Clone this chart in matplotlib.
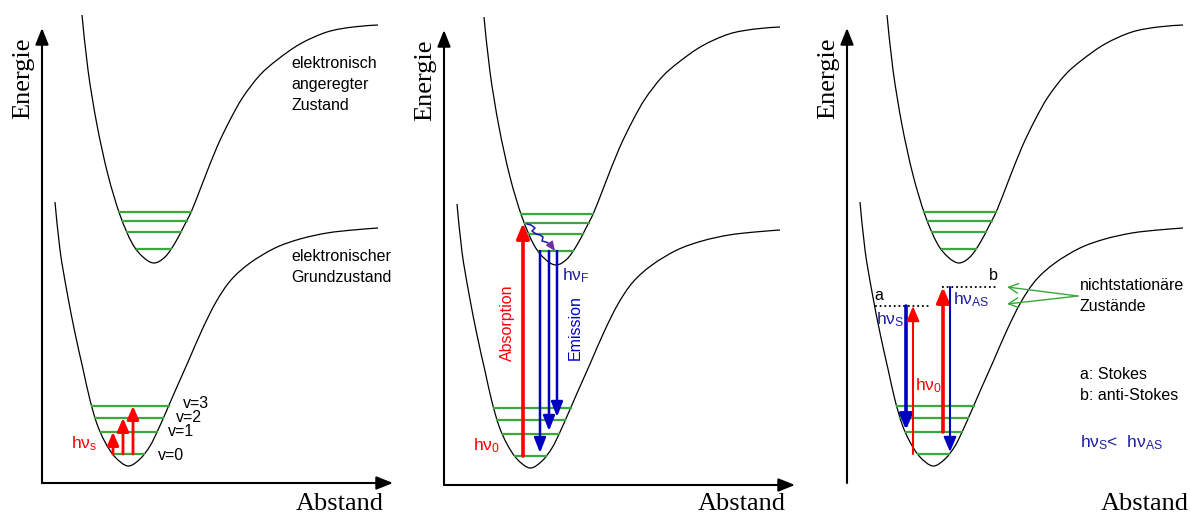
import numpy as np
import matplotlib.pyplot as plt
from matplotlib.path import Path
from matplotlib.patches import PathPatch

plt.rcParams['mathtext.fontset'] = 'custom'
plt.rcParams['mathtext.rm'] = 'Liberation Sans'
plt.rcParams['mathtext.it'] = 'Liberation Sans'
plt.rcParams['mathtext.bf'] = 'Liberation Sans'

# potential curves (pixel coords)
upper_x = [82, 88, 97, 108, 120, 132, 143, 154, 165, 175, 184, 192, 203, 217, 230, 243,
           260, 277, 300, 327, 353, 378]
upper_y = [15, 70, 125, 175, 215, 243, 257, 263, 257, 243, 226, 210, 182, 147, 120, 97,
           75, 60, 44, 32, 27, 25]
lower_x = [55, 60, 67, 75, 83, 90, 97, 105, 115, 128, 140, 150, 158, 166, 176, 188, 202,
           216, 231, 250, 275, 300, 327, 353, 378]
lower_y = [202, 250, 292, 333, 369, 400, 424, 442, 457, 466, 459, 446, 430, 412, 389, 362, 330,
           302, 280, 263, 248, 239, 233, 230, 228]

# vibrational levels
upper_levels = [212, 221, 232, 249]
lower_levels = [406, 418, 432, 454]
v_labels = ['v=3', 'v=2', 'v=1', 'v=0']

# panel offsets
panel_dx = [0, 402, 805]
panel_dy = [0, 2, 0]

GREEN = '#3aa83a'
BLUE = '#0000c0'
TBLUE = '#1e1ea0'
RED = '#ff0000'
SANS = 'Liberation Sans'
SERIF = 'Liberation Serif'


def branch_x(xs, ys, y):
    xs = np.array(xs, float)
    ys = np.array(ys, float)
    i = int(np.argmax(ys))
    left = np.interp(y, ys[:i + 1], xs[:i + 1])
    right = np.interp(y, ys[i:][::-1], xs[i:][::-1])
    return left, right


def smooth_curve(ax, xs, ys, dx, dy):
    # cubic bezier path through the read points (catmull-rom handles)
    p = np.column_stack([np.array(xs, float) + dx, np.array(ys, float) + dy])
    pp = np.vstack([p[0], p, p[-1]])
    verts = [p[0]]
    codes = [Path.MOVETO]
    for i in range(1, len(pp) - 2):
        c1 = pp[i] + (pp[i + 1] - pp[i - 1]) / 6
        c2 = pp[i + 1] - (pp[i + 2] - pp[i]) / 6
        verts += [c1, c2, pp[i + 1]]
        codes += [Path.CURVE4] * 3
    ax.add_patch(PathPatch(Path(verts, codes), fc='none', ec='black', lw=0.9))


def arrow(ax, x0, y0, x1, y1, color, lw=2.2, hl=0.8, hw=0.35, ms=10):
    ax.annotate('', xy=(x1, y1), xytext=(x0, y0),
                arrowprops=dict(arrowstyle=f'-|>,head_length={hl},head_width={hw}',
                                color=color, lw=lw, shrinkA=0, shrinkB=0,
                                mutation_scale=ms))


fig = plt.figure(figsize=(11.9, 5.15), dpi=100)
ax = fig.add_axes([0, 0, 1, 1])
ax.set_xlim(0, 1190)
ax.set_ylim(515, 0)
ax.axis('off')

for dx, dy in zip(panel_dx, panel_dy):
    # axes with arrow heads
    arrow(ax, 42 + dx, 483 + dy, 42 + dx, 28 + dy, 'black', lw=1.5, hl=1.0, hw=0.4, ms=10)
    arrow(ax, 42 + dx, 483 + dy, 393 + dx, 483 + dy, 'black', lw=1.5, hl=1.0, hw=0.4, ms=10)
    ax.text(23 + dx, 78 + dy, 'Energie', rotation=90, ha='center', va='center',
            fontsize=19, family=SERIF)
    ax.text(384 + dx, 504, 'Abstand', ha='right', va='center',
            fontsize=19, family=SERIF)

    # curves
    smooth_curve(ax, upper_x, upper_y, dx, dy)
    smooth_curve(ax, lower_x, lower_y, dx, dy)

    # vibrational levels
    for lv in upper_levels:
        l, r = branch_x(upper_x, upper_y, lv)
        ax.plot([l + dx, r + dx], [lv + dy, lv + dy], color=GREEN, lw=1.6)
    for lv in lower_levels:
        l, r = branch_x(lower_x, lower_y, lv)
        ax.plot([l + dx, r + dx], [lv + dy, lv + dy], color=GREEN, lw=1.6)

# ---- panel 1 ----
ax.text(291, 84, 'elektronisch\nangeregter\nZustand', ha='left', va='center',
        fontsize=11.5, family=SANS, linespacing=1.5)
ax.text(291, 267, 'elektronischer\nGrundzustand', ha='left', va='center',
        fontsize=11.5, family=SANS, linespacing=1.5)
for lab, lv, xo, yo in zip(v_labels, lower_levels, [183, 176, 168, 158], [-3, 0, 0, 1]):
    ax.text(xo, lv + yo, lab, ha='left', va='center', fontsize=11.5, family=SANS)
for xa, lv in zip([113, 123, 133], lower_levels[2::-1]):
    arrow(ax, xa, lower_levels[3], xa, lv, RED, lw=2.0, hl=0.8, hw=0.35, ms=10)
ax.text(71, 444, r'h$\nu_\mathrm{s}$', color=RED, ha='left', va='center',
        fontsize=12.5, family=SANS)

# ---- panel 2 ----
d2x, d2y = panel_dx[1], panel_dy[1]
arrow(ax, 523, lower_levels[3] + d2y, 523, upper_levels[1] + d2y, RED, lw=2.6, hl=0.9, hw=0.38, ms=10)
for xe, lv in zip([540, 549, 557], lower_levels[3:0:-1]):
    arrow(ax, xe, upper_levels[3] + d2y, xe, lv + d2y - 3, BLUE, lw=1.8, hl=0.9, hw=0.35, ms=10)
wavy_x = [527, 531, 535, 532, 536, 540, 543, 542, 546, 550, 553]
wavy_y = [224, 225, 228, 231, 234, 235, 237, 241, 242, 244, 248]
ax.plot(wavy_x, wavy_y, color='#1818b0', lw=1.1)
arrow(ax, 550, 244, 555, 251, '#7030a0', lw=1.0, hl=0.8, hw=0.35, ms=7)
ax.text(507, 323, 'Absorption', rotation=90, color=RED, ha='center', va='center',
        fontsize=11.5, family=SANS)
ax.text(575, 328, 'Emission', rotation=90, color=BLUE, ha='center', va='center',
        fontsize=11.5, family=SANS)
ax.text(562, 276, r'h$\nu_\mathrm{F}$', color=TBLUE, ha='left', va='center',
        fontsize=12.5, family=SANS)
ax.text(473, 446, r'h$\nu_\mathrm{0}$', color=RED, ha='left', va='center',
        fontsize=12.5, family=SANS)

# ---- panel 3 ----
ax.plot([875, 930], [306, 306], color='black', lw=1.3, ls=(0, (1, 1.6)))
ax.plot([942, 997], [287, 287], color='black', lw=1.3, ls=(0, (1, 1.6)))
ax.text(879, 295, 'a', ha='center', va='center', fontsize=11.5, family=SANS)
ax.text(993, 276, 'b', ha='center', va='center', fontsize=11.5, family=SANS)
arrow(ax, 906, 306, 906, lower_levels[2] - 2, BLUE, lw=2.6, hl=0.9, hw=0.38, ms=10)
arrow(ax, 913, lower_levels[3], 913, 306, RED, lw=1.5, hl=0.9, hw=0.38, ms=10)
arrow(ax, 943, lower_levels[2], 943, 287, RED, lw=2.6, hl=0.9, hw=0.38, ms=10)
arrow(ax, 950, 287, 950, lower_levels[3] - 2, BLUE, lw=1.5, hl=0.9, hw=0.38, ms=10)
ax.text(876, 320, r'h$\nu_\mathrm{S}$', color=TBLUE, ha='left', va='center',
        fontsize=12.5, family=SANS)
ax.text(953, 300, r'h$\nu_\mathrm{AS}$', color=TBLUE, ha='left', va='center',
        fontsize=12.5, family=SANS)
ax.text(915, 386, r'h$\nu_\mathrm{0}$', color=RED, ha='left', va='center',
        fontsize=12.5, family=SANS)
for yt in [287, 304]:
    ax.annotate('', xy=(1007, yt), xytext=(1078, 296),
                arrowprops=dict(arrowstyle='->,head_length=0.7,head_width=0.35',
                                color=GREEN, lw=1.0, shrinkA=0, shrinkB=0,
                                mutation_scale=10))
ax.text(1080, 296, 'nichtstationäre\nZustände', ha='left', va='center',
        fontsize=11.5, family=SANS, linespacing=1.5)
ax.text(1080, 385, 'a: Stokes\nb: anti-Stokes', ha='left', va='center',
        fontsize=11.5, family=SANS, linespacing=1.5)
ax.text(1080, 443, r'h$\nu_\mathrm{S}$<  h$\nu_\mathrm{AS}$', color=TBLUE, ha='left',
        va='center', fontsize=12.5, family=SANS)

fig.savefig('out.png', dpi=100)
